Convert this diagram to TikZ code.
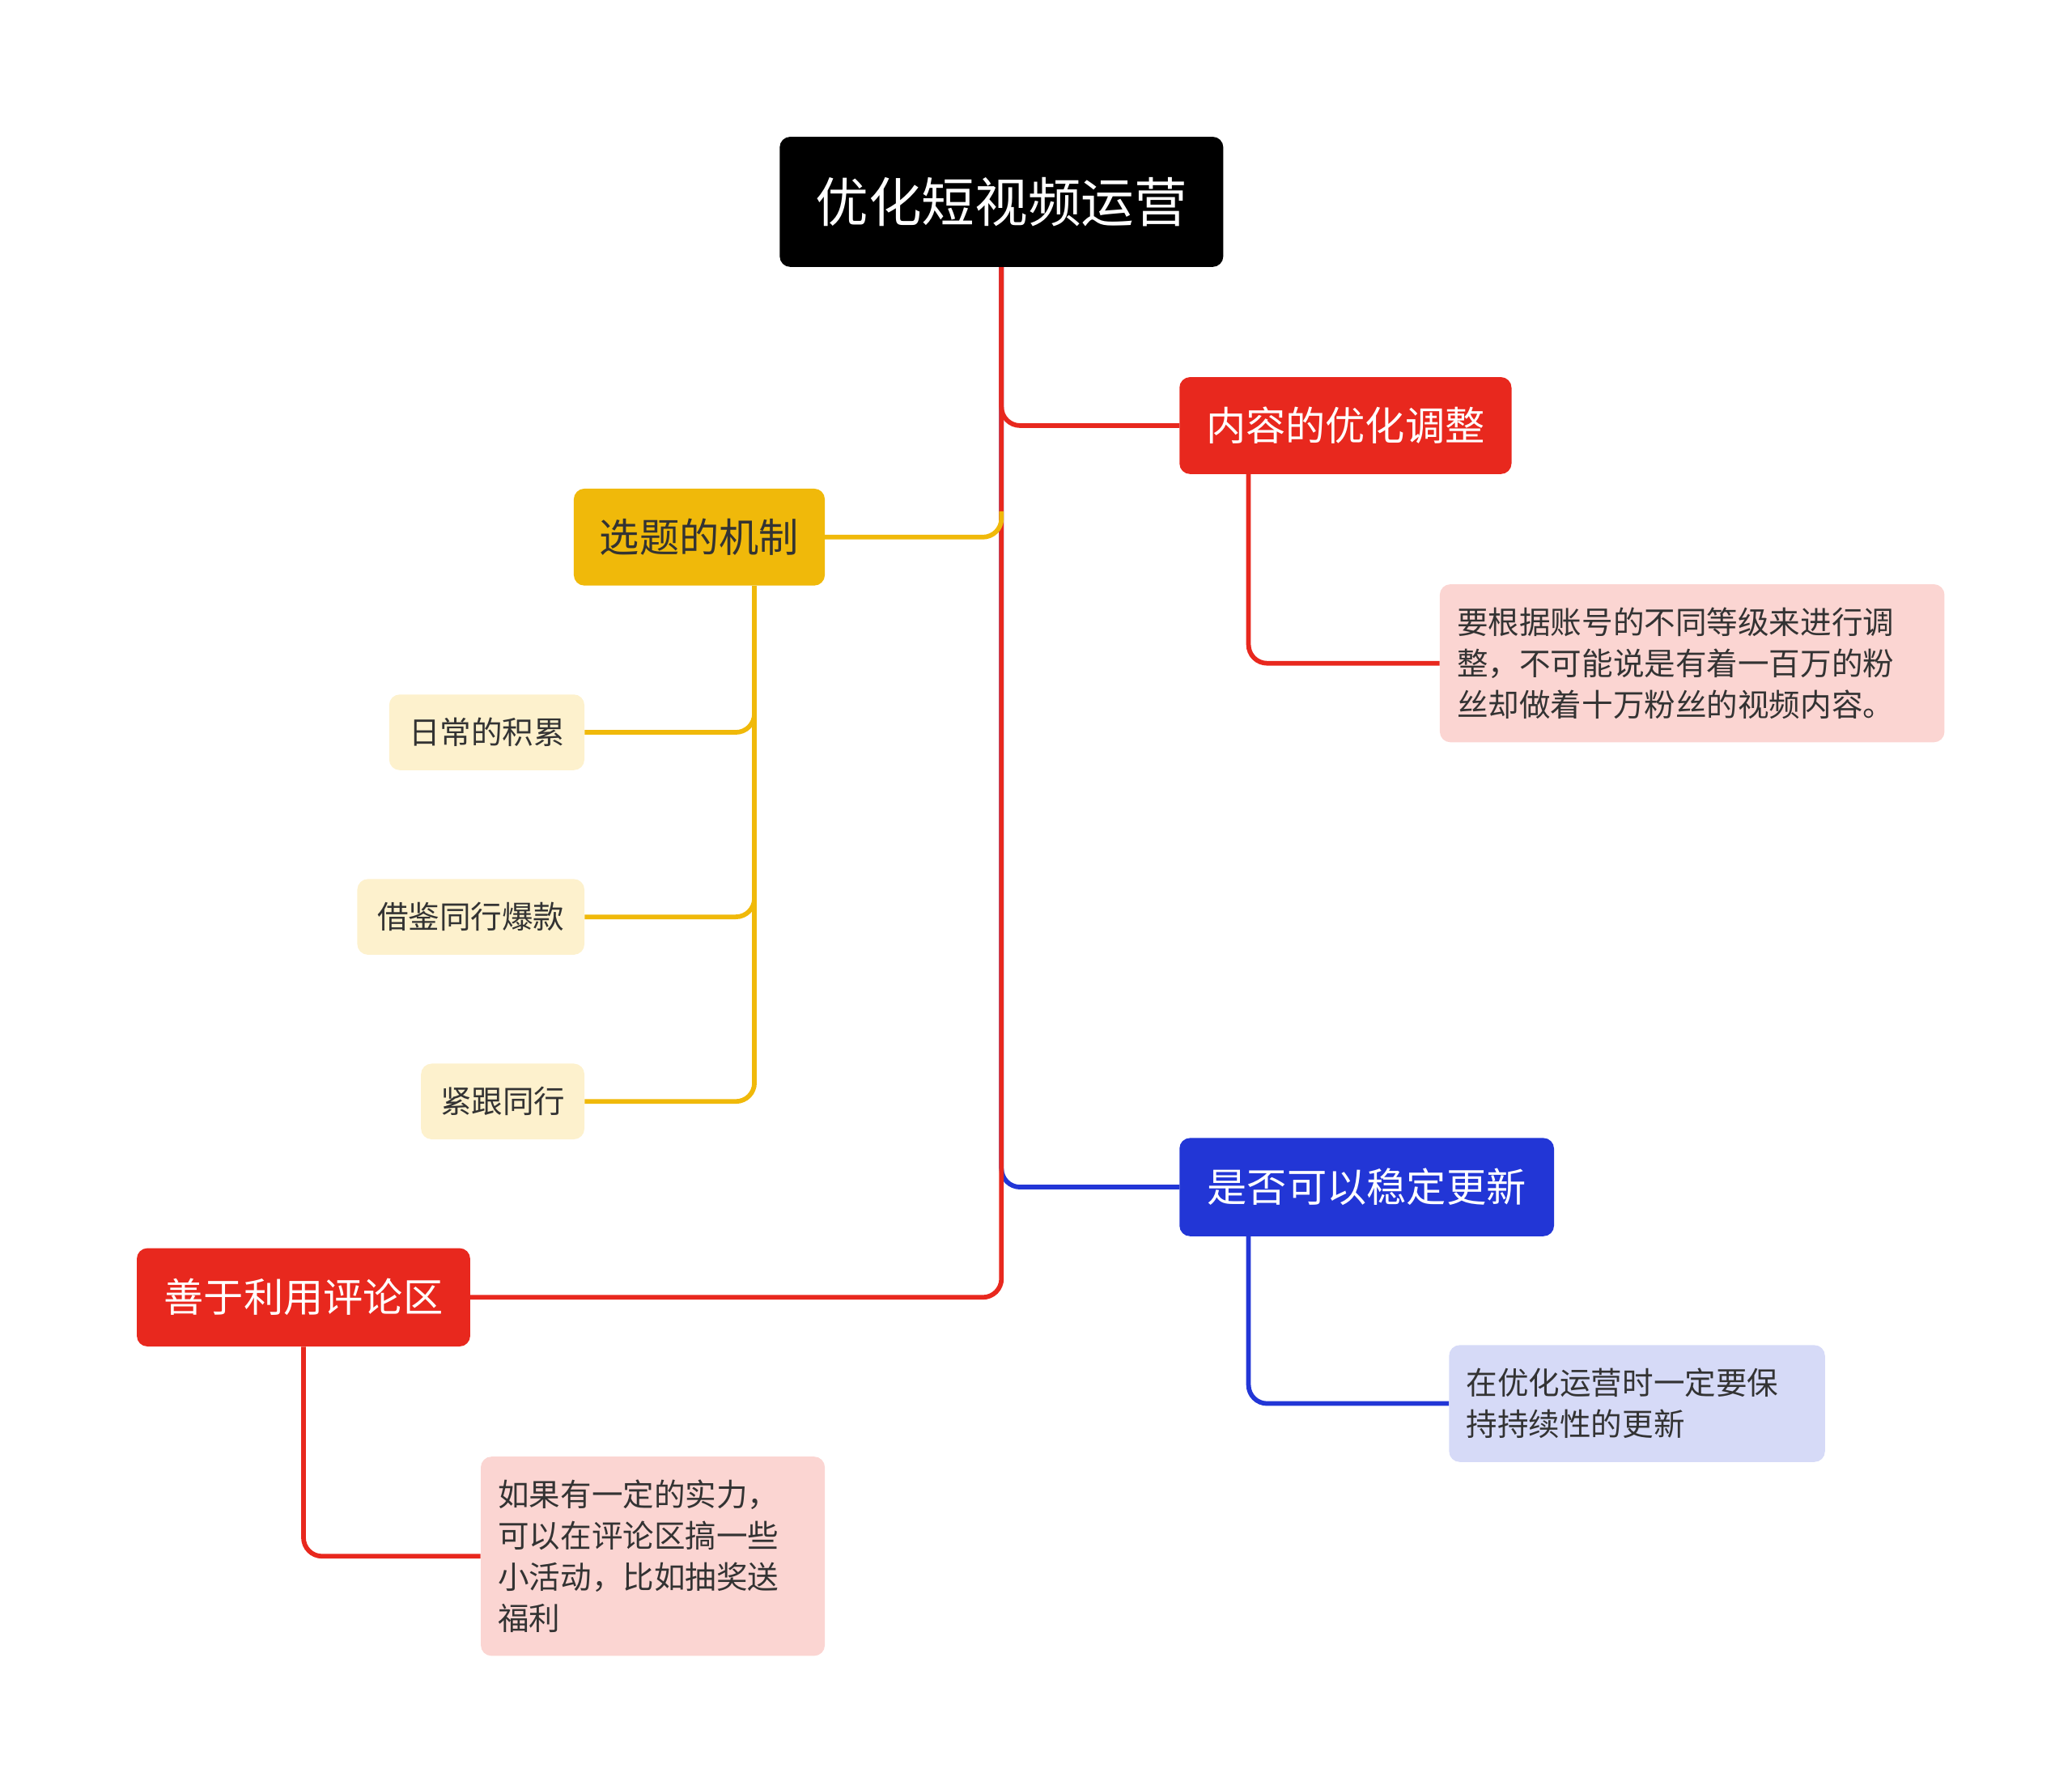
\documentclass[tikz,border=0pt]{standalone}
\usepackage{fontspec}
\setmainfont{Noto Sans CJK SC}
\definecolor{cred}{HTML}{E8281E}
\definecolor{cyel}{HTML}{F0B90A}
\definecolor{cblue}{HTML}{2236D6}
\definecolor{cpink}{HTML}{FBD5D2}
\definecolor{clav}{HTML}{D6DAF7}
\definecolor{clyel}{HTML}{FDF1CD}
\definecolor{ctxt}{HTML}{333333}
\begin{document}
\begin{tikzpicture}[x=1pt,y=-1pt,
 box/.style={rounded corners=8pt,inner sep=0pt,align=left},
 note/.style={rounded corners=8pt,inner xsep=13pt,inner ysep=0pt,align=left,text=ctxt,font=\fontsize{23.5}{31}\selectfont},
 ln/.style={line width=3.5pt,rounded corners=14pt}]
\useasboundingbox (0,0) rectangle (1560,1344);
\draw[ln,cblue] (754,201) |- (888,894);
\draw[ln,cred] (754,201) |- (354,977);
\draw[ln,cred] (754,201) |- (888,320.5);
\draw[ln,cyel] (621,404.5) -| (754,385);
\node[box,fill=black,text=white,minimum width=334,minimum height=98,font=\fontsize{40}{48}\selectfont] (root) at (754,152) {优化短视频运营};
\node[box,fill=cred,text=white,minimum width=250,minimum height=73,font=\fontsize{30}{36}\selectfont] (c1) at (1013,320.5) {内容的优化调整};
\node[box,fill=cyel,text=ctxt,minimum width=189,minimum height=73,font=\fontsize{30}{36}\selectfont] (c2) at (526.5,404.5) {选题的机制};
\node[box,fill=cblue,text=white,minimum width=282,minimum height=74,font=\fontsize{30}{36}\selectfont] (c3) at (1029,894) {是否可以稳定更新};
\node[box,fill=cred,text=white,minimum width=251,minimum height=74,font=\fontsize{30}{36}\selectfont] (c4) at (228.5,977) {善于利用评论区};
\node[note,fill=cpink,text width=354,minimum height=119] (n1) at (1274,499.5) {要根据账号的不同等级来进行调\\整，不可能说是有着一百万的粉\\丝却做着十万粉丝的视频内容。};
\node[box,fill=clyel,text=ctxt,minimum width=147,minimum height=57,font=\fontsize{23.5}{28}\selectfont] (l1) at (366.5,551.5) {日常的积累};
\node[box,fill=clyel,text=ctxt,minimum width=171,minimum height=57,font=\fontsize{23.5}{28}\selectfont] (l2) at (354.5,690.5) {借鉴同行爆款};
\node[box,fill=clyel,text=ctxt,minimum width=123,minimum height=57,font=\fontsize{23.5}{28}\selectfont] (l3) at (378.5,829.5) {紧跟同行};
\node[note,fill=clav,text width=257,minimum height=88] (n3) at (1232.5,1057) {在优化运营时一定要保\\持持续性的更新};
\node[note,fill=cpink,text width=233,minimum height=150] (n4) at (491.5,1172) {如果有一定的实力，\\可以在评论区搞一些\\小活动，比如抽奖送\\福利};
\draw[ln,cyel] (c2.south -| 568,0) |- (l1.east);
\draw[ln,cyel] (c2.south -| 568,0) |- (l2.east);
\draw[ln,cyel] (c2.south -| 568,0) |- (l3.east);
\draw[ln,cred] (c1.south -| 940,0) |- (n1.west);
\draw[ln,cblue] (c3.south -| 940,0) |- (n3.west);
\draw[ln,cred] (c4.south) |- (n4.west);
\end{tikzpicture}
\end{document}
